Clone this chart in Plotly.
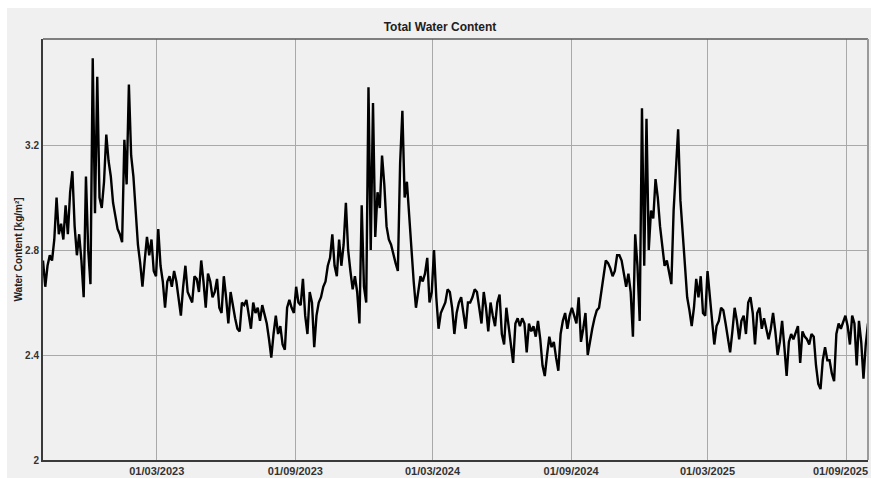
import pandas as pd
import plotly.graph_objects as go

# Total water content, one reading every 3 days from 1 Oct 2022 [kg/m²]
series_start = "2022-10-01"
sample_step = "3D"

twc_2022_23 = [
    2.76, 2.66, 2.74, 2.78, 2.76, 2.84, 3.00, 2.86, 2.90, 2.84,
    2.97, 2.86, 3.02, 3.10, 2.89, 2.78, 2.86, 2.76, 2.62, 3.08,
    2.80, 2.67, 3.53, 2.94, 3.46, 3.00, 2.96, 3.06, 3.24, 3.14,
    3.08, 2.98, 2.93, 2.88, 2.86, 2.83, 3.22, 3.05, 3.43, 3.16,
    3.08, 2.96, 2.82, 2.75, 2.66, 2.76, 2.85, 2.78, 2.84, 2.72,
    2.70, 2.88, 2.74, 2.68, 2.58, 2.68, 2.70, 2.66, 2.72, 2.68,
    2.62, 2.55, 2.66, 2.74, 2.64, 2.62, 2.60, 2.70, 2.69, 2.64,
    2.76, 2.68, 2.58, 2.71, 2.68, 2.62, 2.64, 2.69, 2.58, 2.56,
    2.70, 2.62, 2.52, 2.64, 2.58, 2.54, 2.50, 2.49, 2.60, 2.59,
    2.61, 2.56, 2.50, 2.60, 2.56, 2.58, 2.53, 2.59, 2.56, 2.52,
    2.46, 2.39, 2.48, 2.55, 2.48, 2.51, 2.44, 2.42, 2.58, 2.61,
    2.58, 2.56, 2.66, 2.60, 2.59, 2.69, 2.55, 2.48, 2.64, 2.60,
    2.43, 2.55,
]

twc_2023_24 = [
    2.60, 2.62, 2.66, 2.68, 2.74, 2.77, 2.86, 2.74,
    2.70, 2.84, 2.74, 2.82, 2.98, 2.80, 2.72, 2.65, 2.70, 2.64,
    2.52, 2.97, 2.66, 2.60, 3.42, 2.80, 3.36, 2.85, 3.02, 2.96,
    3.16, 3.05, 2.89, 2.84, 2.82, 2.78, 2.75, 2.72, 3.13, 3.33,
    3.00, 3.06, 2.92, 2.80, 2.68, 2.58, 2.64, 2.70, 2.68, 2.71,
    2.77, 2.60, 2.64, 2.80, 2.62, 2.50, 2.56, 2.58, 2.60, 2.65,
    2.64, 2.58, 2.48, 2.56, 2.60, 2.62, 2.56, 2.50, 2.60,
    2.60, 2.62, 2.65, 2.64, 2.58, 2.52, 2.64, 2.58, 2.49, 2.60, 2.55,
    2.51, 2.60, 2.63, 2.48, 2.44, 2.58, 2.51, 2.45, 2.37, 2.52,
    2.54, 2.51, 2.54, 2.52, 2.41, 2.52, 2.49, 2.51, 2.47, 2.53,
    2.46, 2.36, 2.32, 2.40, 2.47, 2.43, 2.45, 2.39, 2.34, 2.48,
    2.53, 2.56, 2.50, 2.55, 2.58, 2.55, 2.52, 2.62, 2.45, 2.50,
    2.56, 2.40, 2.46, 2.50,
]

twc_2024_25 = [
    2.54, 2.57, 2.58, 2.64, 2.69, 2.76, 2.75,
    2.73, 2.70, 2.72, 2.78, 2.78, 2.76, 2.70, 2.66, 2.71,
    2.64, 2.47, 2.86, 2.74, 2.53, 3.34, 2.74, 3.30, 2.80, 2.95,
    2.92, 3.07, 3.00, 2.89, 2.80, 2.74, 2.76, 2.71, 2.67, 2.95,
    3.09, 3.26, 2.99, 2.86, 2.76, 2.62, 2.57, 2.51, 2.58, 2.69,
    2.62, 2.70, 2.56, 2.55, 2.72, 2.63, 2.52, 2.44, 2.51, 2.53,
    2.58, 2.57, 2.52, 2.46, 2.41, 2.49, 2.58, 2.53, 2.46, 2.53,
    2.55, 2.48, 2.60,
    2.62, 2.56, 2.44, 2.56, 2.58, 2.50, 2.54,
    2.50, 2.46, 2.50, 2.56, 2.49, 2.40, 2.45, 2.53, 2.43, 2.32,
    2.45, 2.48, 2.46, 2.49, 2.51, 2.37, 2.49, 2.47, 2.46, 2.44,
    2.48, 2.47, 2.36, 2.29, 2.27, 2.38, 2.43, 2.38, 2.38, 2.33,
    2.30, 2.48, 2.52, 2.50, 2.53, 2.55, 2.51, 2.44, 2.55, 2.52,
    2.36, 2.53, 2.45, 2.31, 2.44, 2.52,
]

x_tick_dates = ["2023-03-01", "2023-09-01", "2024-03-01",
                "2024-09-01", "2025-03-01", "2025-09-01"]
x_tick_labels = ["01/03/2023", "01/09/2023", "01/03/2024",
                 "01/09/2024", "01/03/2025", "01/09/2025"]
y_tick_values = [2, 2.4, 2.8, 3.2]
y_tick_labels = ["2", "2.4", "2.8", "3.2"]

values = twc_2022_23 + twc_2023_24 + twc_2024_25
dates = pd.date_range(series_start, periods=len(values), freq=sample_step)

W, H = 871, 478
L, R, T, B = 43, 3, 39, 18
pw, ph = W - L - R, H - T - B

def px_x(p):
    return (p - L) / pw

def px_y(p):
    return (H - B - p) / ph

BG = "#f0f0f0"
FONT = "Liberation Sans, Arial, sans-serif"
TICK_FONT = dict(family=FONT, size=11, color="#333333", weight="bold")

fig = go.Figure(
    go.Scatter(
        x=dates, y=values, mode="lines",
        line=dict(color="#000000", width=2.4),
        showlegend=False, hoverinfo="skip",
    )
)

# The last date label sits at the right edge; it is written as an
# annotation pinned to the window edge so that it stays fully visible.
axis_labels = [""] * (len(x_tick_labels) - 1) + [""]
axis_labels[:-1] = x_tick_labels[:-1]

fig.update_layout(
    width=W, height=H,
    margin=dict(l=L, r=R, t=T, b=B, pad=0),
    paper_bgcolor=BG, plot_bgcolor=BG,
    font=dict(family=FONT, size=11, color="#333333"),
    title=dict(
        text="Total Water Content",
        x=440 / W, xref="container", xanchor="center",
        y=1 - 27 / H, yref="container", yanchor="middle",
        font=dict(family=FONT, size=12, color="#202020", weight="bold"),
    ),
    xaxis=dict(
        range=["2022-10-01", "2025-09-30"],
        tickvals=x_tick_dates, ticktext=axis_labels,
        ticklabeloverflow="allow", automargin=False,
        showgrid=True, gridcolor="#a9a9a9", gridwidth=1,
        showline=True, linecolor="#3a3a3a", linewidth=2,
        zeroline=False, ticks="",
        tickfont=TICK_FONT,
    ),
    yaxis=dict(
        range=[2, 2 + (H - B - T) / 262.5],
        tickvals=y_tick_values, ticktext=y_tick_labels,
        automargin=False,
        showgrid=True, gridcolor="#a9a9a9", gridwidth=1,
        showline=True, linecolor="#3a3a3a", linewidth=2,
        zeroline=False, ticks="",
        tickfont=dict(family=FONT, size=10, color="#333333", weight="bold"),
    ),
    shapes=[
        # window edge strips
        dict(type="rect", xref="paper", yref="paper",
             x0=px_x(0), x1=px_x(W), y0=px_y(8), y1=px_y(0),
             fillcolor="#ffffff", line_width=0, layer="above"),
        dict(type="rect", xref="paper", yref="paper",
             x0=px_x(0), x1=px_x(7), y0=px_y(H), y1=px_y(0),
             fillcolor="#ffffff", line_width=0, layer="above"),
        # top and right frame
        dict(type="line", xref="paper", yref="paper",
             x0=0, x1=1, y0=1, y1=1,
             line=dict(color="#5a5a5a", width=1.5)),
        dict(type="line", xref="paper", yref="paper",
             x0=1, x1=1, y0=0, y1=1,
             line=dict(color="#9a9a9a", width=2)),
    ],
    annotations=[
        dict(text="Water Content [kg/m²]", textangle=-90,
             xref="paper", yref="paper", x=px_x(18), y=0.5,
             xanchor="center", yanchor="middle", showarrow=False,
             font=dict(family=FONT, size=10, color="#202020", weight="bold")),
        dict(text=x_tick_labels[-1], xref="paper", yref="paper",
             x=px_x(870), y=px_y(471), xanchor="right", yanchor="middle",
             showarrow=False, font=TICK_FONT),
    ],
)

fig.write_html("out.html", config={"displayModeBar": False})
